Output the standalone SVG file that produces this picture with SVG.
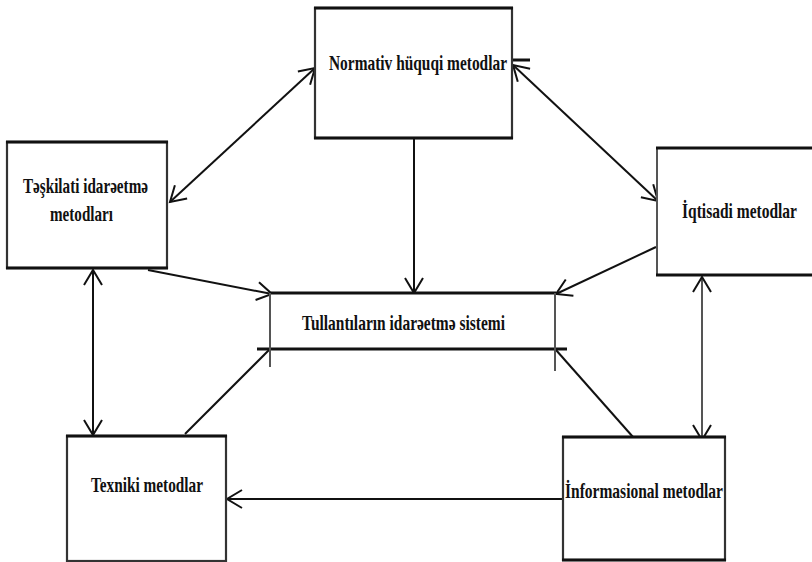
<svg xmlns="http://www.w3.org/2000/svg" width="812" height="562" viewBox="0 0 812 562">
<style>
.bg{fill:#ffffff}
.box{fill:#ffffff;stroke:#333333;stroke-width:2.2}
.hedge{stroke:#111111;stroke-width:3;fill:none}
.ln{stroke:#111111;stroke-width:2;fill:none}
.gray{stroke:#555555;stroke-width:2;fill:none}
.t{font-family:"Liberation Serif","Times New Roman",serif;font-weight:bold;font-size:21px;fill:#111111}
</style>
<defs>
<marker id="ah" markerUnits="userSpaceOnUse" viewBox="-16 -10 18 20" markerWidth="18" markerHeight="20" refX="0" refY="0" orient="auto-start-reverse" overflow="visible">
<path d="M-15,-9 L0,0 L-15,9" fill="none" stroke="#111111" stroke-width="2"/>
</marker>
</defs>
<rect class="bg" x="0" y="0" width="812" height="562"/>

<g id="connectors">
<line class="ln" x1="315" y1="68" x2="170" y2="202" marker-start="url(#ah)" marker-end="url(#ah)"/>
<line class="ln" x1="513" y1="65" x2="658" y2="201" marker-start="url(#ah)" marker-end="url(#ah)"/>
<line class="hedge" x1="512" y1="60" x2="530" y2="60"/>
<line class="ln" x1="414" y1="139" x2="414" y2="293" marker-end="url(#ah)"/>
<line class="ln" x1="148" y1="270" x2="272" y2="294" marker-end="url(#ah)"/>
<line class="ln" x1="656" y1="247" x2="556" y2="294" marker-end="url(#ah)"/>
<line class="ln" x1="93" y1="270" x2="93" y2="435" marker-start="url(#ah)" marker-end="url(#ah)"/>
<line class="gray" x1="702" y1="277" x2="702" y2="440" marker-start="url(#ah)" marker-end="url(#ah)"/>
<line class="ln" x1="185" y1="434" x2="270" y2="349"/>
<line class="ln" x1="633" y1="437" x2="556" y2="350"/>
<line class="ln" x1="563" y1="499" x2="227" y2="499" marker-end="url(#ah)"/>
</g>

<g id="normativ">
<rect class="box" x="315" y="8" width="197" height="130"/>
<line class="hedge" x1="314" y1="8" x2="513" y2="8"/>
<line class="hedge" x1="314" y1="138" x2="513" y2="138"/>
<text class="t" x="329" y="70" textLength="178" lengthAdjust="spacingAndGlyphs">Normativ hüquqi metodlar</text>
</g>

<g id="teskilati">
<rect class="box" x="7" y="142" width="160" height="126"/>
<line class="hedge" x1="6" y1="142" x2="168" y2="142"/>
<line class="hedge" x1="6" y1="268" x2="168" y2="268"/>
<text class="t" x="23" y="193" textLength="125" lengthAdjust="spacingAndGlyphs">Təşkilati idarəetmə</text>
<text class="t" x="50" y="221" textLength="63" lengthAdjust="spacingAndGlyphs">metodları</text>
</g>

<g id="iqtisadi">
<rect class="bg" x="657" y="148" width="155" height="127"/>
<line class="gray" x1="657" y1="148" x2="657" y2="275"/>
<line class="hedge" x1="656" y1="148" x2="812" y2="148"/>
<line class="hedge" x1="656" y1="275" x2="812" y2="275"/>
<text class="t" x="682" y="218" textLength="115" lengthAdjust="spacingAndGlyphs">İqtisadi metodlar</text>
</g>

<g id="tullantilar">
<rect class="bg" x="271" y="293" width="284" height="56"/>
<line class="hedge" x1="271" y1="293" x2="556" y2="293"/>
<line class="hedge" x1="257" y1="349" x2="567" y2="349"/>
<line class="gray" x1="270" y1="293" x2="270" y2="367"/>
<line class="gray" x1="555" y1="293" x2="555" y2="371"/>
<text class="t" x="302" y="330" textLength="203" lengthAdjust="spacingAndGlyphs">Tullantıların idarəetmə sistemi</text>
</g>

<g id="texniki">
<rect class="box" x="67" y="436" width="159" height="125"/>
<line class="hedge" x1="66" y1="436" x2="227" y2="436"/>
<text class="t" x="91" y="492" textLength="112" lengthAdjust="spacingAndGlyphs">Texniki metodlar</text>
</g>

<g id="informasional">
<rect class="box" x="563" y="437" width="162" height="123"/>
<line class="hedge" x1="562" y1="437" x2="726" y2="437"/>
<line class="hedge" x1="562" y1="560" x2="726" y2="560"/>
<text class="t" x="565" y="498" textLength="158" lengthAdjust="spacingAndGlyphs">İnformasional metodlar</text>
</g>
</svg>
